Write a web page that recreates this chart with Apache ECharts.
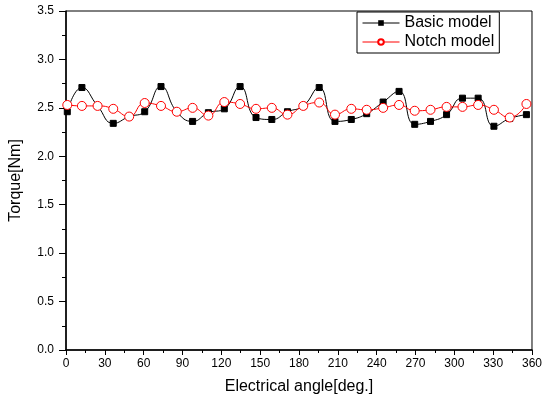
<!DOCTYPE html>
<html lang="en">
<head>
    <meta charset="UTF-8">
    <title>Torque vs electrical angle</title>
    <script src="https://cdn.jsdelivr.net/npm/echarts@6/dist/echarts.min.js"></script>
    <style>
        html, body { margin: 0; padding: 0; background: #fff; }
        #chart { width: 545px; height: 403px; }
    </style>
</head>
<body>
    <div id="chart"></div>
    <script>
        // values
        const angles = [1, 12.3, 24.4, 36.5, 48.8, 60.8, 73.4, 85.6, 97.8, 110, 122.3, 134.5, 146.8, 159, 171.1,
            183.3, 195.6, 207.8, 220.4, 232.3, 245, 257.3, 269.4, 281.6, 294, 306.3, 318.4, 330.6, 342.8, 355.7];
        const basicModel = [2.46, 2.71, 2.52, 2.34, 2.41, 2.46, 2.72, 2.46, 2.36, 2.45, 2.49, 2.72, 2.40, 2.38, 2.46,
            2.52, 2.71, 2.36, 2.38, 2.44, 2.56, 2.67, 2.33, 2.36, 2.43, 2.60, 2.60, 2.31, 2.39, 2.43];
        const notchModel = [2.53, 2.52, 2.52, 2.49, 2.41, 2.55, 2.52, 2.46, 2.50, 2.42, 2.56, 2.54, 2.49, 2.50, 2.43,
            2.52, 2.555, 2.43, 2.49, 2.48, 2.50, 2.53, 2.47, 2.48, 2.51, 2.51, 2.53, 2.48, 2.40, 2.54];
        const seriesNames = ['Basic model', 'Notch model'];

        const font = 'Arial, "Liberation Sans", sans-serif';
        const pairs = (ys) => angles.map((a, i) => [a, ys[i]]);

        const chart = echarts.init(document.getElementById('chart'));
        chart.setOption({
            animation: false,
            textStyle: { fontFamily: font, color: '#000' },
            grid: {
                left: 66, right: 13, top: 11, bottom: 53,
                show: true, borderColor: '#000', borderWidth: 1, backgroundColor: '#fff'
            },
            legend: {
                orient: 'vertical',
                left: 357, top: 12,
                padding: [3, 5, 3, 5],
                itemGap: 3,
                itemWidth: 37, itemHeight: 7,
                borderColor: '#000', borderWidth: 1, backgroundColor: '#fff',
                lineStyle: { width: 1 },
                textStyle: { fontSize: 16, color: '#000', fontFamily: font },
                data: seriesNames
            },
            xAxis: {
                type: 'value', min: 0, max: 360, interval: 30,
                name: 'Electrical angle[deg.]', nameLocation: 'middle', nameGap: 29,
                nameTextStyle: { fontSize: 16, color: '#000', fontFamily: font },
                axisLine: { lineStyle: { color: '#000', width: 1.5 } },
                axisTick: { inside: false, length: 5, lineStyle: { color: '#000' } },
                minorTick: { show: true, splitNumber: 2, length: 3, lineStyle: { color: '#000' } },
                axisLabel: { fontSize: 12, color: '#000', margin: 8 },
                splitLine: { show: false }
            },
            yAxis: {
                type: 'value', min: 0, max: 3.5, interval: 0.5,
                name: 'Torque[Nm]', nameLocation: 'middle', nameGap: 42,
                nameTextStyle: { fontSize: 16, color: '#000', fontFamily: font },
                axisLine: { show: true, lineStyle: { color: '#000', width: 1.5 } },
                axisTick: { show: true, inside: false, length: 7, lineStyle: { color: '#000' } },
                minorTick: { show: true, splitNumber: 2, length: 4, lineStyle: { color: '#000' } },
                axisLabel: { fontSize: 12, color: '#000', margin: 12, formatter: v => v.toFixed(1) },
                splitLine: { show: false }
            },
            series: [
                {
                    name: seriesNames[0], type: 'line', smooth: 0.5,
                    data: pairs(basicModel),
                    symbol: 'rect', symbolSize: 6,
                    lineStyle: { color: '#000', width: 1 },
                    itemStyle: { color: '#000', borderColor: '#000' },
                    z: 2
                },
                {
                    name: seriesNames[1], type: 'line', smooth: 0.5,
                    data: pairs(notchModel),
                    symbol: 'circle', symbolSize: 9,
                    lineStyle: { color: '#ff0000', width: 1 },
                    itemStyle: { color: '#fff', borderColor: '#ff0000', borderWidth: 1 },
                    z: 3
                }
            ]
        });
    </script>
</body>
</html>
